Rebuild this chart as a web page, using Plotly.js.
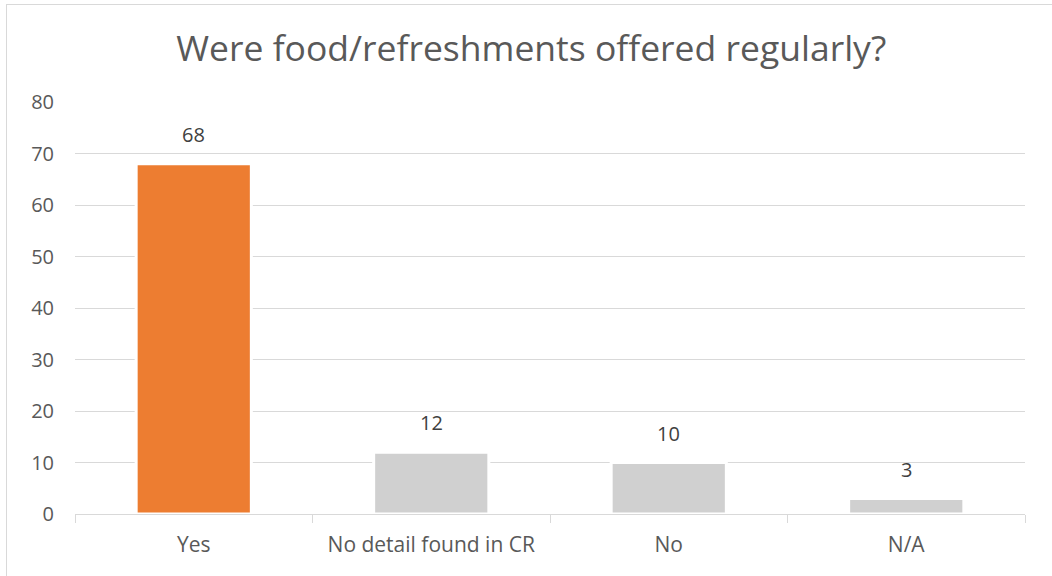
<!DOCTYPE html>
<html>
<head>
<meta charset="utf-8">
<script src="https://cdn.plot.ly/plotly-3.0.1.min.js"></script>
<style>
  html, body { margin: 0; padding: 0; background: #fff; overflow: hidden; }
  #chart { position: absolute; left: 0; top: 0; width: 1052px; height: 576px; }
  #frame { position: absolute; left: 6px; top: 4px; width: 1060px; height: 600px;
           border: 1px solid #D9D9D9; pointer-events: none; }
</style>
</head>
<body>
<div id="chart"></div>
<div id="frame"></div>
<script>
const categories = ["Yes", "No detail found in CR", "No", "N/A"];
const values = [68, 12, 10, 3];
const barColors = ["#ED7D31", "#D0D0D0", "#D0D0D0", "#D0D0D0"];
const yTicks = [0, 10, 20, 30, 40, 50, 60, 70, 80];

const fontFam = "'Open Sans', sans-serif";

const trace = {
  type: "bar",
  x: categories,
  y: values,
  marker: { color: barColors, line: { color: "#FFFFFF", width: 3 } },
  hoverinfo: "x+y"
};

const annotations = categories.map((c, i) => ({
  x: c, y: values[i], xref: "x", yref: "y",
  text: String(values[i]), showarrow: false,
  yanchor: "bottom", yshift: 14,
  font: { family: fontFam, size: 20, color: "#404040" }
}));

const layout = {
  width: 1052, height: 576,
  margin: { l: 75, r: 27, t: 102, b: 62 },
  paper_bgcolor: "#FFFFFF", plot_bgcolor: "#FFFFFF",
  title: {
    text: "Were food/refreshments offered regularly?",
    font: { family: fontFam, size: 35.5, color: "#595959" },
    x: 0.505, xanchor: "center", y: 0.916, yanchor: "middle"
  },
  bargap: 0.515,
  showlegend: false,
  xaxis: {
    type: "category",
    tickson: "boundaries",
    ticks: "outside", ticklen: 8, tickcolor: "#D9D9D9",
    showline: true, linecolor: "#D9D9D9", linewidth: 1,
    showgrid: false, zeroline: false,
    tickfont: { family: fontFam, size: 21, color: "#595959" },
    ticklabelstandoff: 12
  },
  yaxis: {
    range: [0, 80],
    tickvals: yTicks,
    ticktext: yTicks.map(String),
    showgrid: true, gridcolor: "#D9D9D9", gridwidth: 1,
    zeroline: false, showline: false,
    ticks: "",
    tickfont: { family: fontFam, size: 20, color: "#595959" },
    ticklabelstandoff: 20
  },
  annotations: annotations
};

Plotly.newPlot("chart", [trace], layout, { displayModeBar: false, staticPlot: true });
</script>
</body>
</html>
